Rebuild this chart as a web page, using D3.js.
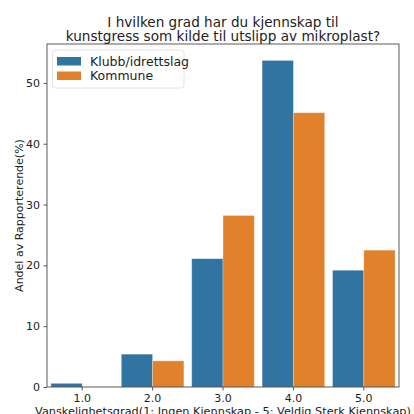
<!DOCTYPE html>
<html><head><meta charset="utf-8">
<script src="https://cdn.jsdelivr.net/npm/d3@7"></script>
<style>body{margin:0;background:#fff}svg{display:block}text{font-family:"DejaVu Sans",sans-serif;fill:#222}</style>
</head><body><svg id="c" width="414" height="414"></svg>
<script>
const categories = ["1.0","2.0","3.0","4.0","5.0"];
const seriesNames = ["Klubb/idrettslag","Kommune"];
const klubb = [0.6, 5.4, 21.1, 53.7, 19.2];
const kommune = [0, 4.3, 28.2, 45.1, 22.5];
const yTicks = [0,10,20,30,40,50];
const colors = ["#3274a1","#e1812c"];

const svg = d3.select("#c");
const m = {l:47, r:399, t:44, b:387};
const x = d3.scaleBand().domain(categories).range([m.l,m.r]).paddingInner(0).paddingOuter(0);
const xs = d3.scaleBand().domain(seriesNames).range([0,x.bandwidth()]).paddingInner(0).paddingOuter(0.125);
const y = d3.scaleLinear().domain([0,56.4]).range([m.b,m.t]);

const data = categories.map((c,i)=>({c, vals:[klubb[i],kommune[i]]}));
const g = svg.append("g");
data.forEach(d=>{
  d.vals.forEach((v,j)=>{
    g.append("rect").attr("x",x(d.c)+xs(seriesNames[j])).attr("width",xs.bandwidth())
     .attr("y",y(v)).attr("height",m.b-y(v)).attr("fill",colors[j])
     .attr("stroke","rgba(255,255,255,0.35)").attr("stroke-width",0.8);
  });
});

const ya = svg.append("g").attr("transform",`translate(${m.l},0)`).call(d3.axisLeft(y).tickValues(yTicks).tickSize(3.5).tickPadding(3.5));
const xa = svg.append("g").attr("transform",`translate(0,${m.b})`).call(d3.axisBottom(x).tickSize(3.5).tickPadding(3.5));
[ya,xa].forEach(a=>{a.select(".domain").remove();a.selectAll("line").attr("stroke","#333").attr("stroke-width",0.8);a.selectAll("text").attr("font-size",11).attr("fill","#222").attr("font-family","DejaVu Sans");});
svg.append("rect").attr("x",m.l).attr("y",m.t).attr("width",m.r-m.l).attr("height",m.b-m.t).attr("fill","none").attr("stroke","#333").attr("stroke-width",0.8);

svg.append("text").attr("x",(m.l+m.r)/2).attr("y",26.5).attr("text-anchor","middle").attr("font-size",13.6).text("I hvilken grad har du kjennskap til");
svg.append("text").attr("x",(m.l+m.r)/2).attr("y",41).attr("text-anchor","middle").attr("font-size",13.6).text("kunstgress som kilde til utslipp av mikroplast?");
svg.append("text").attr("transform",`translate(23,${(m.t+m.b)/2}) rotate(-90)`).attr("text-anchor","middle").attr("font-size",11).text("Andel av Rapporterende(%)");
svg.append("text").attr("x",(m.l+m.r)/2).attr("y",415).attr("text-anchor","middle").attr("font-size",11.3).text("Vanskelighetsgrad(1: Ingen Kjennskap - 5: Veldig Sterk Kjennskap)");

const lg = svg.append("g");
lg.append("rect").attr("x",52.5).attr("y",50).attr("width",131.5).attr("height",38).attr("rx",3).attr("fill","rgba(255,255,255,0.8)").attr("stroke","#ddd").attr("stroke-width",0.8);
seriesNames.forEach((s,i)=>{
  lg.append("rect").attr("x",57).attr("y",57+i*14.5).attr("width",24).attr("height",8.5).attr("fill",colors[i]);
  lg.append("text").attr("x",90).attr("y",65.5+i*14.5).attr("font-size",12.5).text(s);
});
</script></body></html>
